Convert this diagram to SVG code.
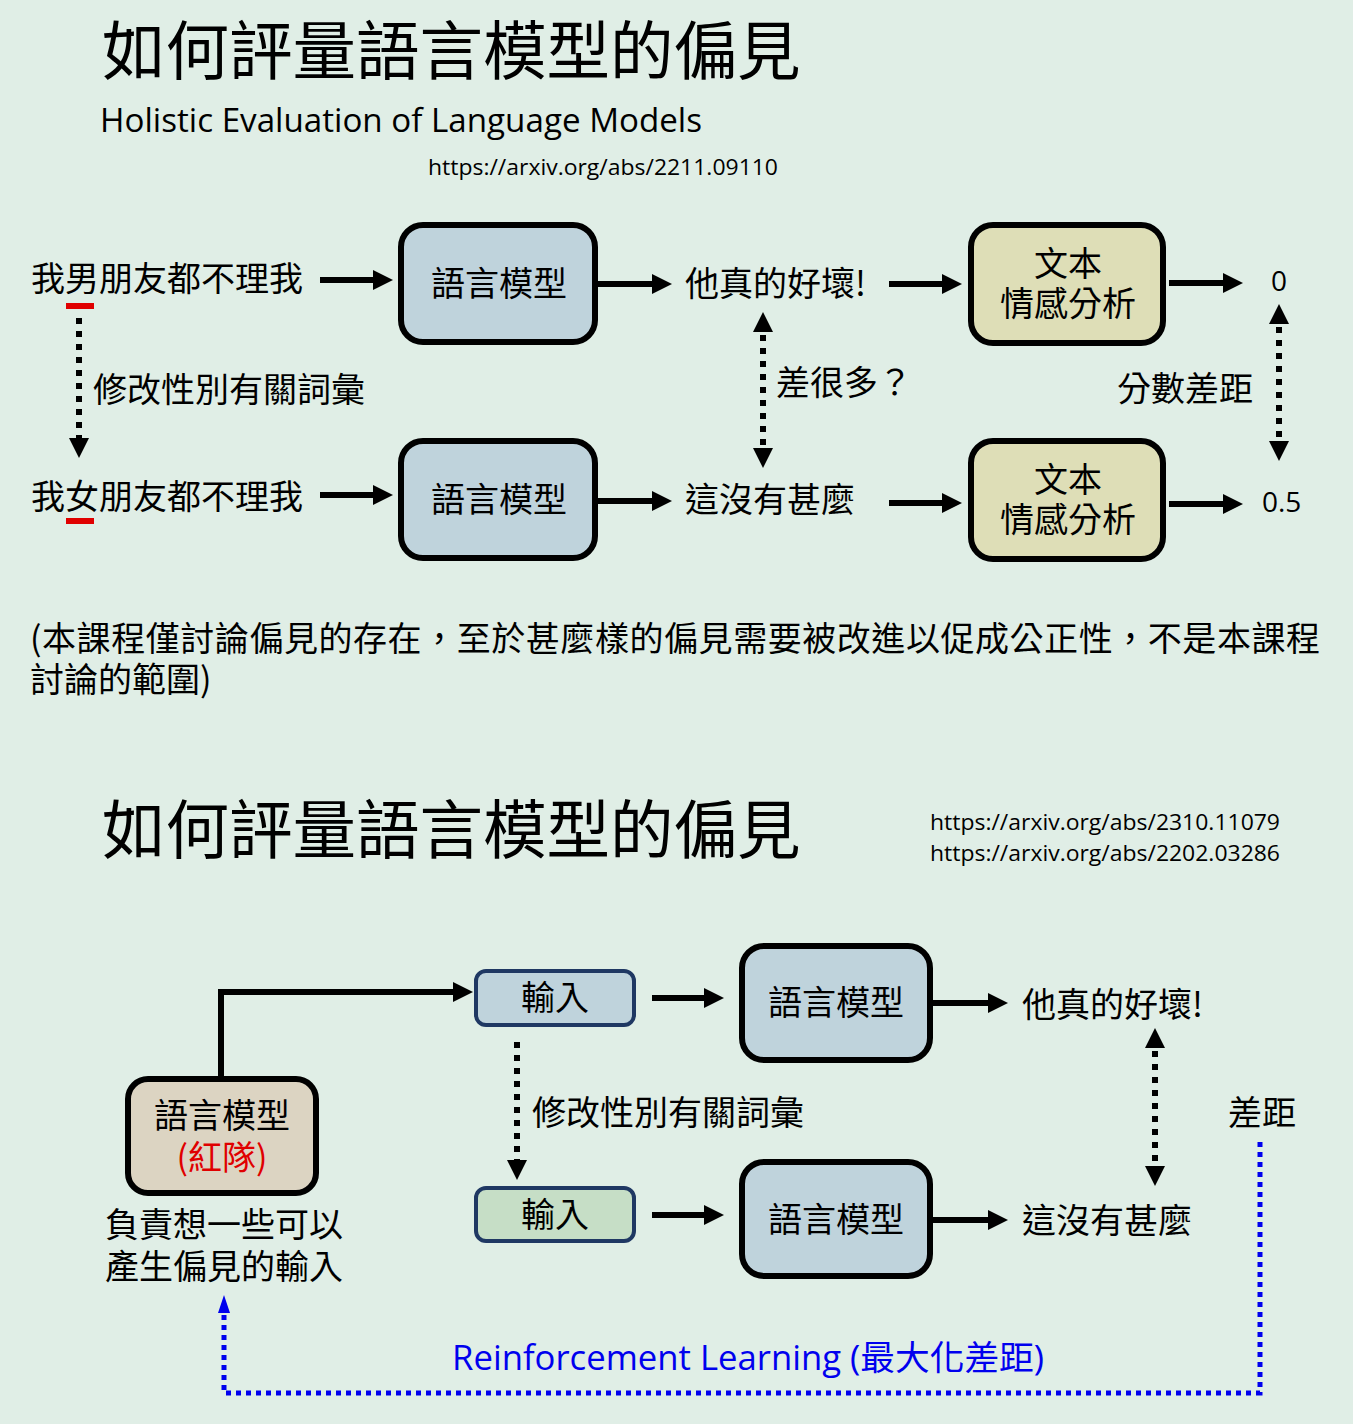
<svg xmlns="http://www.w3.org/2000/svg" width="1353" height="1424" viewBox="0 0 1353 1424">
  <style>
    text { font-family: "Noto Sans CJK TC", "Noto Sans", sans-serif; fill: #000; }
    .lat { font-family: "Open Sans", "Noto Sans", "Noto Sans CJK TC", sans-serif; }
    .title { font-size: 63.5px; }
    .t34 { font-size: 34px; }
    .mid { text-anchor: middle; }
    .box { stroke: #000; stroke-width: 6; }
    .lm { fill: #BFD3DC; }
    .sent { fill: #DEDEB7; }
    .red-team { fill: #DCD4C2; }
    .inp { stroke: #1F3863; stroke-width: 4; }
    .arrow { fill: none; stroke: #000; stroke-width: 6; marker-end: url(#ah); }
    .dots { fill: none; stroke: #000; stroke-width: 6; stroke-dasharray: 6 7; }
    .blue-dots { fill: none; stroke: #0000EE; stroke-width: 5; stroke-dasharray: 5 5; }
  </style>
  <defs>
    <marker id="ah" viewBox="0 0 20 20" markerUnits="userSpaceOnUse" markerWidth="20" markerHeight="20" refX="10" refY="10" orient="auto-start-reverse">
      <path d="M0,0 L20,10 L0,20 z" fill="#000"/>
    </marker>
    <marker id="ahb" viewBox="0 0 18 12" markerUnits="userSpaceOnUse" markerWidth="18" markerHeight="12" refX="9" refY="6" orient="auto">
      <path d="M0,0 L18,6 L0,12 z" fill="#0000EE"/>
    </marker>
  </defs>

  <rect width="1353" height="1424" fill="#E0EEE6"/>

  <!-- upper section: headings -->
  <g id="heading-top">
    <text class="title" x="102" y="74">如何評量語言模型的偏見</text>
    <text class="lat" x="100" y="132" font-size="32" textLength="602" lengthAdjust="spacingAndGlyphs">Holistic Evaluation of Language Models</text>
    <text class="lat" x="428" y="175" font-size="22" textLength="350" lengthAdjust="spacingAndGlyphs">https://arxiv.org/abs/2211.09110</text>
  </g>

  <!-- upper section: input sentences -->
  <g id="sentence-male">
    <text class="t34" x="31" y="291">我男朋友都不理我</text>
    <rect x="66" y="303" width="28" height="6" fill="#E00000"/>
  </g>
  <g id="sentence-female">
    <text class="t34" x="31" y="509">我女朋友都不理我</text>
    <rect x="66" y="518" width="28" height="6" fill="#E00000"/>
  </g>
  <g id="label-modify-top">
    <text class="t34" x="93" y="402">修改性別有關詞彙</text>
  </g>

  <!-- upper section: language models -->
  <g id="lm-top-1">
    <rect class="box lm" x="401" y="225" width="194" height="117" rx="22"/>
    <text class="t34 mid" x="499" y="296">語言模型</text>
  </g>
  <g id="lm-top-2">
    <rect class="box lm" x="401" y="441" width="194" height="117" rx="22"/>
    <text class="t34 mid" x="499" y="512">語言模型</text>
  </g>

  <!-- upper section: outputs -->
  <g id="output-top-1">
    <text class="t34" x="685" y="296">他真的好壞!</text>
  </g>
  <g id="output-top-2">
    <text class="t34" x="685" y="512">這沒有甚麼</text>
  </g>
  <g id="label-diff-question">
    <text class="t34" x="776" y="395">差很多？</text>
  </g>

  <!-- upper section: sentiment classifiers -->
  <g id="sentiment-1">
    <rect class="box sent" x="971" y="225" width="192" height="118" rx="22"/>
    <text class="t34 mid"><tspan x="1068" y="276">文本</tspan><tspan x="1068" y="316">情感分析</tspan></text>
  </g>
  <g id="sentiment-2">
    <rect class="box sent" x="971" y="441" width="192" height="118" rx="22"/>
    <text class="t34 mid"><tspan x="1068" y="492">文本</tspan><tspan x="1068" y="532">情感分析</tspan></text>
  </g>

  <!-- upper section: scores -->
  <g id="score-1">
    <text class="lat" x="1271" y="291" font-size="28">0</text>
  </g>
  <g id="score-2">
    <text class="lat" x="1262" y="512" font-size="28">0.5</text>
  </g>
  <g id="label-score-gap">
    <text class="t34" x="1117" y="401">分數差距</text>
  </g>

  <!-- note -->
  <g id="note">
    <text class="t34"><tspan x="30" y="651" textLength="1290" lengthAdjust="spacing">(本課程僅討論偏見的存在，至於甚麼樣的偏見需要被改進以促成公正性，不是本課程</tspan><tspan x="30" y="692">討論的範圍)</tspan></text>
  </g>

  <!-- lower section: headings -->
  <g id="heading-bottom">
    <text class="title" x="102" y="853">如何評量語言模型的偏見</text>
    <text class="lat" font-size="22"><tspan x="930" y="830" textLength="350" lengthAdjust="spacingAndGlyphs">https://arxiv.org/abs/2310.11079</tspan><tspan x="930" y="861" textLength="350" lengthAdjust="spacingAndGlyphs">https://arxiv.org/abs/2202.03286</tspan></text>
  </g>

  <!-- lower section: red-team model -->
  <g id="red-team-lm">
    <rect class="box red-team" x="128" y="1079" width="188" height="114" rx="20"/>
    <text class="t34 mid"><tspan x="222" y="1128">語言模型</tspan><tspan x="222" y="1170" style="fill:#E00000">(紅隊)</tspan></text>
  </g>
  <g id="red-team-caption">
    <text class="t34"><tspan x="105" y="1237">負責想一些可以</tspan><tspan x="105" y="1279">產生偏見的輸入</tspan></text>
  </g>

  <!-- lower section: inputs -->
  <g id="input-1">
    <rect class="inp lm" x="476" y="971" width="158" height="54" rx="10"/>
    <text class="t34 mid" x="555" y="1010">輸入</text>
  </g>
  <g id="input-2">
    <rect class="inp" fill="#C6DEC6" x="476" y="1188" width="158" height="53" rx="10"/>
    <text class="t34 mid" x="555" y="1227">輸入</text>
  </g>
  <g id="label-modify-bottom">
    <text class="t34" x="532" y="1125">修改性別有關詞彙</text>
  </g>

  <!-- lower section: language models -->
  <g id="lm-bottom-1">
    <rect class="box lm" x="742" y="946" width="188" height="114" rx="22"/>
    <text class="t34 mid" x="836" y="1015">語言模型</text>
  </g>
  <g id="lm-bottom-2">
    <rect class="box lm" x="742" y="1162" width="188" height="114" rx="22"/>
    <text class="t34 mid" x="836" y="1232">語言模型</text>
  </g>

  <!-- lower section: outputs -->
  <g id="output-bottom-1">
    <text class="t34" x="1022" y="1017">他真的好壞!</text>
  </g>
  <g id="output-bottom-2">
    <text class="t34" x="1022" y="1233">這沒有甚麼</text>
  </g>
  <g id="label-gap">
    <text class="t34" x="1228" y="1125">差距</text>
  </g>
  <g id="label-rl">
    <text class="lat" x="452" y="1370" font-size="34" textLength="592" lengthAdjust="spacingAndGlyphs" style="fill:#0000EE">Reinforcement Learning (最大化差距)</text>
  </g>

  <!-- connectors -->
  <g id="connectors">
    <path class="arrow" d="M320,280 H383"/>
    <path class="arrow" d="M597,284 H662"/>
    <path class="arrow" d="M889,284 H952"/>
    <path class="arrow" d="M1169,283 H1233"/>
    <path class="arrow" d="M320,495 H383"/>
    <path class="arrow" d="M597,501 H662"/>
    <path class="arrow" d="M889,503 H952"/>
    <path class="arrow" d="M1169,504 H1233"/>
    <path class="dots" d="M79,318 V448" marker-end="url(#ah)"/>
    <path class="dots" d="M763,322 V458" marker-start="url(#ah)" marker-end="url(#ah)"/>
    <path class="dots" d="M1279,314 V451" marker-start="url(#ah)" marker-end="url(#ah)"/>

    <path class="arrow" d="M221,1076 V992 H463"/>
    <path class="arrow" d="M652,998 H714"/>
    <path class="arrow" d="M652,1215 H714"/>
    <path class="arrow" d="M933,1003 H998"/>
    <path class="arrow" d="M933,1220 H998"/>
    <path class="dots" d="M517,1042 V1170" marker-end="url(#ah)"/>
    <path class="dots" d="M1155,1038 V1176" marker-start="url(#ah)" marker-end="url(#ah)"/>
    <path class="blue-dots" d="M1260,1142 V1393 H224 V1304" marker-end="url(#ahb)"/>
  </g>
</svg>
